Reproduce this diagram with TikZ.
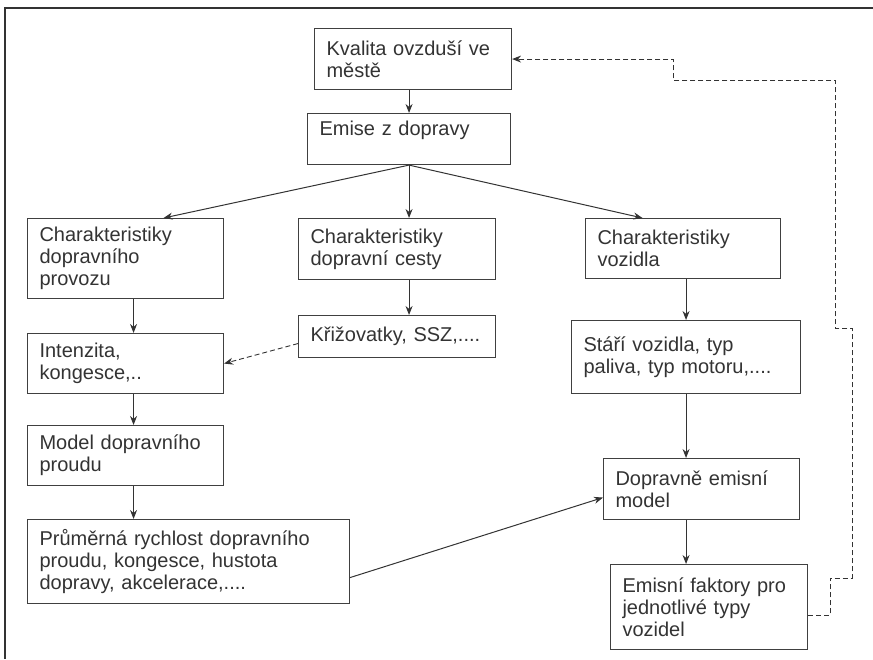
\documentclass[tikz,border=0pt]{standalone}
\usepackage{fontspec}
\setmainfont{Liberation Sans}
\usepackage{xcolor}
\usepackage{tikz}
\usetikzlibrary{shapes.geometric, arrows, arrows.meta, positioning}
\tikzstyle{arrow} = [line width=1pt, draw=black!80, ->, >={Stealth[length=9pt,width=7pt]}]
\tikzstyle{dasharrow} = [arrow, line width=0.9pt, dash pattern=on 5pt off 3pt]

\begin{document}
\begin{tikzpicture}[x=1pt, y=-1pt]
	% Define styles for the boxes of the scheme
	\tikzstyle{blok} = [rectangle, draw=black!75, line width=1.1pt, anchor=north west, align=left, inner xsep=12pt, inner ysep=0pt, font=\fontsize{20pt}{22pt}\selectfont, text=black!80]
	
	\useasboundingbox (0,0) rectangle (873,659);
	
	% Frame
	\draw[line width=1.6pt, black!80] (873,8) -- (5,8) -- (5,659);
	
	% Top
	\node[blok, minimum width=197pt, minimum height=61pt, text width=173pt] (kvalita) at (314,28) {Kvalita ovzduší ve\\ městě};
	\node[blok, minimum width=203pt, minimum height=51pt, text width=179pt] (emise) at (307,113) {Emise z dopravy\\ \mbox{}};
	
	% Left column
	\node[blok, minimum width=196pt, minimum height=80pt, text width=172pt] (provoz) at (27,218) {Charakteristiky\\ dopravního\\ provozu};
	\node[blok, minimum width=196pt, minimum height=60pt, text width=172pt] (intenzita) at (27,333) {Intenzita,\\ kongesce,..};
	\node[blok, minimum width=196pt, minimum height=60pt, text width=172pt] (model) at (27,425) {Model dopravního\\ proudu};
	\node[blok, minimum width=322pt, minimum height=84pt, text width=298pt] (prumer) at (27,519) {Průměrná rychlost dopravního\\ proudu, kongesce, hustota\\ dopravy, akcelerace,....};
	
	% Middle column
	\node[blok, minimum width=197pt, minimum height=61pt, text width=173pt] (cesta) at (298,218) {Charakteristiky\\ dopravní cesty};
	\node[blok, minimum width=197pt, minimum height=42pt, text width=173pt] (krizovatky) at (298,315) {Křižovatky, SSZ,....};
	
	% Right column
	\node[blok, minimum width=195pt, minimum height=60pt, text width=171pt] (vozidlo) at (585,218) {Charakteristiky\\ vozidla};
	\node[blok, minimum width=229pt, minimum height=73pt, text width=205pt] (stari) at (571,320) {Stáří vozidla, typ\\ paliva, typ motoru,....};
	\node[blok, minimum width=196pt, minimum height=61pt, text width=172pt] (emisnimodel) at (603,458) {Dopravně emisní\\ model};
	\node[blok, minimum width=197pt, minimum height=85pt, text width=173pt] (faktory) at (610,564) {Emisní faktory pro\\ jednotlivé typy\\ vozidel};
	
	% Arrows
	\draw[arrow] (kvalita.south -| emise.south) -- (emise.north);
	\draw[arrow] (emise.south) -- ([xshift=38pt]provoz.north);
	\draw[arrow] (emise.south) -- (emise.south |- cesta.north);
	\draw[arrow] (emise.south) -- ([xshift=-40.5pt]vozidlo.north);
	\draw[arrow] ([xshift=8pt]provoz.south) -- ([xshift=8pt]intenzita.north);
	\draw[arrow] ([xshift=8pt]intenzita.south) -- ([xshift=8pt]model.north);
	\draw[arrow] ([xshift=8pt]model.south) -- ([xshift=8pt]model.south |- prumer.north);
	\draw[arrow] (emise.south |- cesta.south) -- (emise.south |- krizovatky.north);
	\draw[dasharrow] ([yshift=-7pt]krizovatky.west) -- (intenzita.east);
	\draw[arrow] (stari.north |- vozidlo.south) -- (stari.north);
	\draw[arrow] (stari.south) -- (stari.south |- emisnimodel.north);
	\draw[arrow] (stari.south |- emisnimodel.south) -- (stari.south |- faktory.north);
	\draw[arrow] ([yshift=-16pt]prumer.east) -- ([yshift=-8.5pt]emisnimodel.west);
	
	% Feedback
	\draw[dasharrow] ([yshift=-8.5pt]faktory.east) -| (830,578) -| (852,328) -| (835,80) -- (673,80) |- (kvalita.east);
\end{tikzpicture}
\end{document}
